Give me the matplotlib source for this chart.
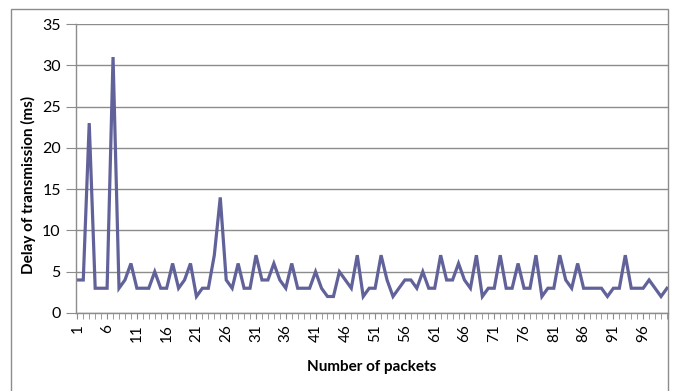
import matplotlib
matplotlib.use("Agg")
import matplotlib.pyplot as plt
from matplotlib.patches import Rectangle

# packet index and delay (ms)
packets = list(range(1, 101))
delay = [4, 4, 23, 3, 3, 3, 31, 3, 4, 6,
         3, 3, 3, 5, 3, 3, 6, 3, 4, 6,
         2, 3, 3, 7, 14, 4, 3, 6, 3, 3,
         7, 4, 4, 6, 4, 3, 6, 3, 3, 3,
         5, 3, 2, 2, 5, 4, 3, 7, 2, 3,
         3, 7, 4, 2, 3, 4, 4, 3, 5, 3,
         3, 7, 4, 4, 6, 4, 3, 7, 2, 3,
         3, 7, 3, 3, 6, 3, 3, 7, 2, 3,
         3, 7, 4, 3, 6, 3, 3, 3, 3, 2,
         3, 3, 7, 3, 3, 3, 4, 3, 2, 3]
xtick_vals = list(range(1, 101, 5))
ytick_vals = list(range(0, 36, 5))

plt.rcParams['font.family'] = ['Lato', 'DejaVu Sans']

W, H = 674, 391
fig = plt.figure(figsize=(W / 100, H / 100), dpi=100)
fig.patches.append(Rectangle((11 / W, -0.05), (668 - 11) / W, 1.05 - 9 / H,
                             transform=fig.transFigure, fill=False,
                             edgecolor='#8c8c8c', linewidth=1.0))

ax = fig.add_axes([76 / W, 1 - 313 / H, (668 - 76) / W, (313 - 24) / H])
ax.plot(packets, delay, color='#62629b', linewidth=2.3, solid_joinstyle='miter')

ax.set_xlim(0.78, 100.17)
ax.set_ylim(0, 35)
ax.set_yticks(ytick_vals)
ax.set_xticks(xtick_vals)
ax.set_xticks(packets, minor=True)
ax.set_xticklabels([str(v) for v in xtick_vals], rotation=90, fontsize=11)
ax.tick_params(axis='y', labelsize=11.5, length=7, color='#8c8c8c', pad=4, direction='out')
ax.tick_params(axis='x', which='both', length=4, color='#8c8c8c', direction='out', pad=4)
ax.grid(axis='y', color='#8c8c8c', linewidth=1.0)
ax.set_axisbelow(True)
for s in ['top', 'right']:
    ax.spines[s].set_visible(False)
for s in ['left', 'bottom']:
    ax.spines[s].set_color('#8c8c8c')
    ax.spines[s].set_linewidth(1.0)

ax.set_xlabel('Number of packets', fontsize=11, fontweight='bold')
ax.set_ylabel('Delay of transmission (ms)', fontsize=11, fontweight='bold')
ax.xaxis.set_label_coords(0.5, -0.163)
ax.yaxis.set_label_coords(-0.068, 0.443)

fig.savefig('out.png', dpi=100)
